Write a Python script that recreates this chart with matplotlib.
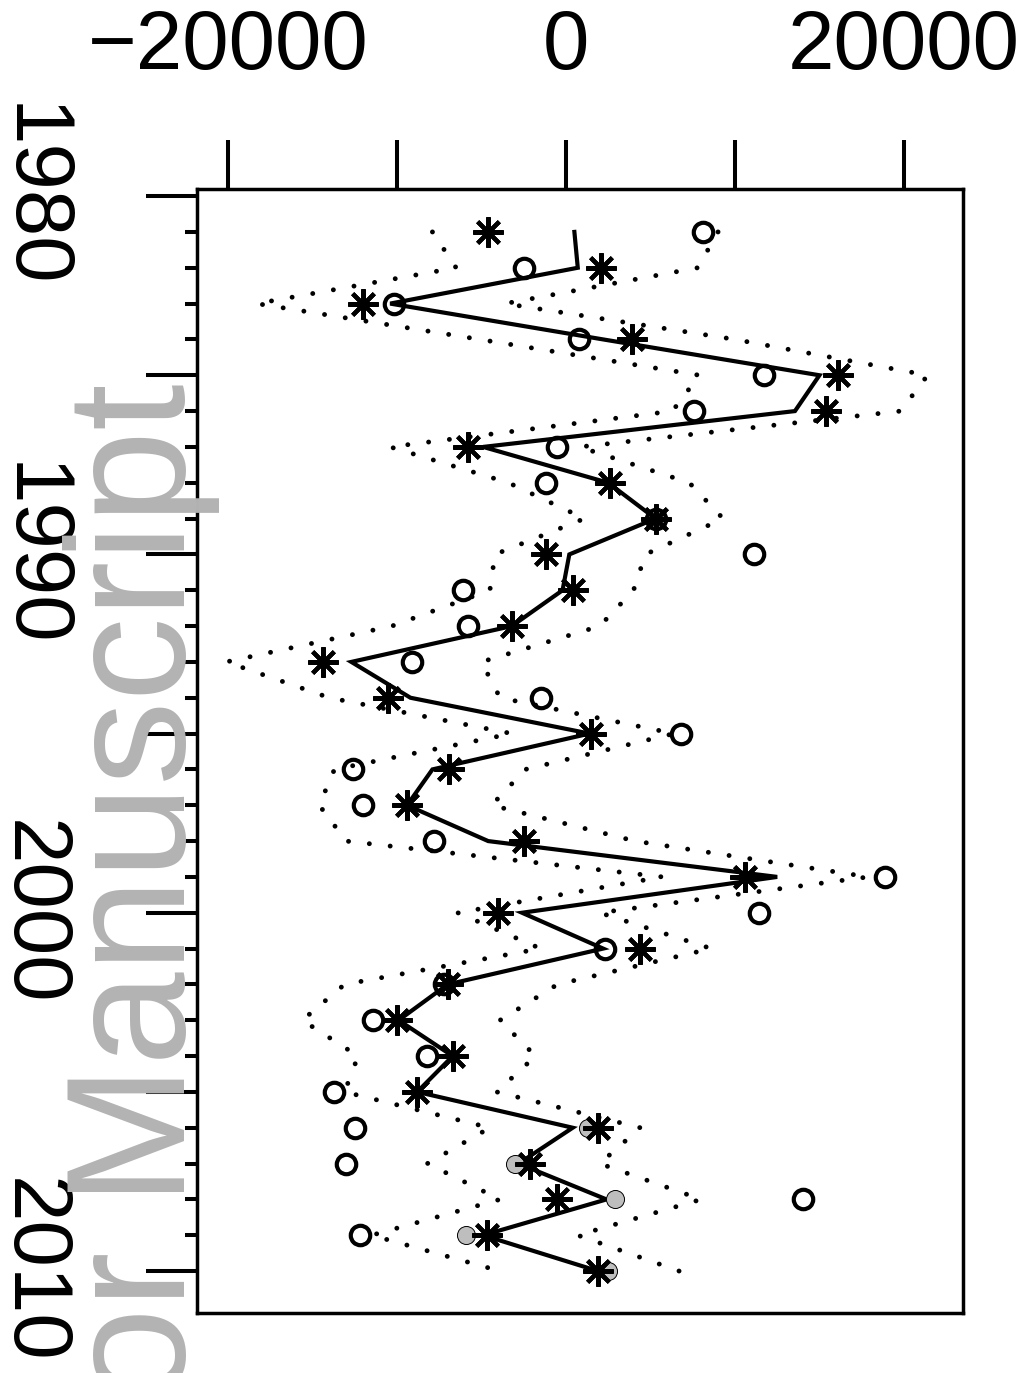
import numpy as np
import matplotlib
matplotlib.use("Agg")
import matplotlib.pyplot as plt

plt.rcParams["font.family"] = ["Liberation Sans", "DejaVu Sans"]

# ---- annual series, 1981-2010 ----
years = np.arange(1981, 2011)

# fitted line (solid)
fit = [500, 700, -10400, 2200, 15000, 13550, -4900, 2500, 5300, 200,
       -200, -3200, -12700, -9200, 1400, -7900, -9400, -4600, 12500, -2600,
       2200, -7000, -9900, -6700, -8800, 400, -2800, 2400, -4900, 1900]

# model estimate (asterisks)
model = [-4600, 2100, -12000, 3900, 16100, 15400, -5800, 2600, 5300, -1200,
         400, -3200, -14400, -10500, 1500, -6900, -9400, -2500, 10600, -4000,
         4400, -7000, -10000, -6700, -8800, 1900, -2100, -500, -4700, 1900]

# observed (open circles), 1981-2009
obs_years = np.arange(1981, 2010)
obs = [8100, -2500, -10200, 800, 11700, 7600, -500, -1200, 5300, 11100,
       -6100, -5800, -9100, -1500, 6800, -12600, -12000, -7800, 18900, 11400,
       2300, -7200, -11400, -8200, -13700, -12500, -13000, 14000, -12200]

# hold-out observations (grey dots)
new_years = np.arange(2006, 2011)
new_obs = [1300, -3000, 2900, -5900, 2500]

# interval bounds (dotted)
lower = [-7900, -6500, -18300, -5100, 7900, 6300, -10400, -3400, 1100, -4200,
         -4500, -10300, -20100, -14000, -3200, -13700, -14600, -13000, 5700, -6400,
         -1500, -13100, -15600, -12300, -13100, -4500, -8200, -3900, -11500, -3900]
upper = [9000, 7800, -3600, 10000, 21400, 19800, 800, 7300, 9300, 4700,
         4000, 2000, -5000, -3900, 6400, -2400, -4400, 4100, 17900, 2000,
         8600, -500, -3900, -1800, -4100, 4400, 2000, 8000, 700, 6700]

xticks = [-20000, -10000, 0, 10000, 20000]
xticklabels = ["\u221220000", "", "0", "", "20000"]
yticks = [1980, 1985, 1990, 1995, 2000, 2005, 2010]
yticklabels = ["1980", "", "1990", "", "2000", "", "2010"]

fig = plt.figure(figsize=(10.29, 13.73), dpi=100)
ax = fig.add_axes([0.1914, 0.0437, 0.7444, 0.8187])

dots = dict(color="k", lw=3.5, linestyle=(0, (0.01, 4.3)), dash_capstyle="round", zorder=2)
ax.plot(lower, years, **dots)
ax.plot(upper, years, **dots)
ax.plot(fit, years, color="k", lw=3, solid_joinstyle="miter", zorder=3)
ax.plot(obs, obs_years, "o", ms=14, mfc="none", mec="k", mew=3, zorder=4)
ax.plot(new_obs, new_years, "o", ms=13, mfc="#bebebe", mec="k", mew=0.7, zorder=4.5)
ax.plot(model, years, ls="none", marker=(8, 2, 0), ms=22, mew=3, color="k", zorder=5)

ax.set_xlim(-21834, 23491)
ax.set_ylim(2011.17, 1979.80)

ax.xaxis.tick_top()
ax.set_xticks(xticks)
ax.set_xticklabels(xticklabels)
ax.tick_params(axis="x", length=35, width=2.9, pad=39, labelsize=60, direction="out")

ax.set_yticks(yticks)
ax.set_yticks(np.arange(1980, 2011), minor=True)
ax.set_yticklabels(yticklabels, rotation=-90, va="center")
ax.tick_params(axis="y", which="major", length=37, width=2.9, pad=54, labelsize=60)
ax.tick_params(axis="y", which="minor", length=8.5, width=2.9)

for s in ax.spines.values():
    s.set_linewidth(2.5)

fig.text(185 / 1029, (1373 - 383) / 1373, "Author Manuscript", rotation=90,
         rotation_mode="anchor", ha="right", va="baseline", fontsize=121,
         color="#b3b3b3", zorder=10)

fig.savefig("out.png", dpi=100)
